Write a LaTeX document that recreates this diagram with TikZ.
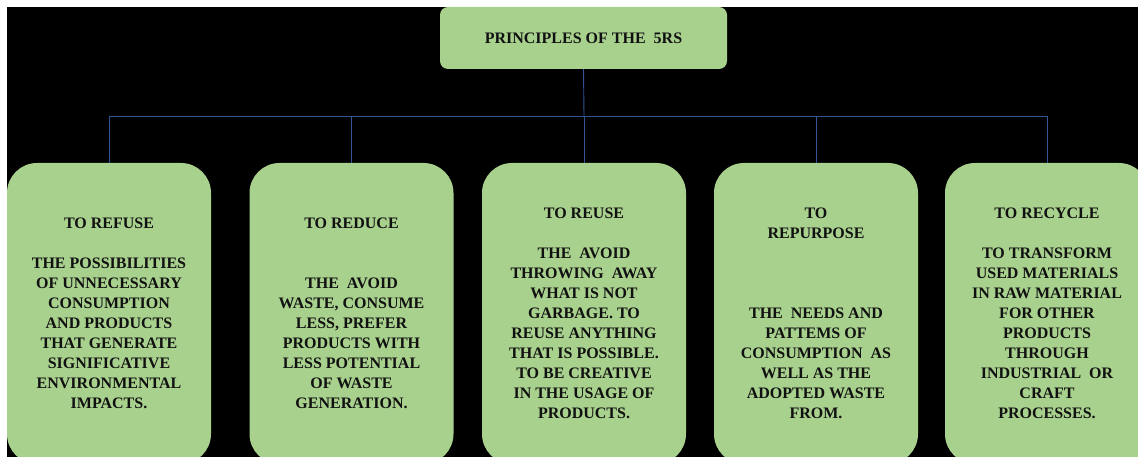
\documentclass[tikz,border=0pt]{standalone}
\usepackage{fontspec}
\setmainfont{Liberation Serif}
\usepackage{xcolor}
\usepackage{tikz}
\usetikzlibrary{positioning,calc}

\definecolor{leafgreen}{HTML}{A9D18E}
\definecolor{linkblue}{HTML}{2F5597}
\definecolor{inkdark}{HTML}{111111}

\tikzset{
    rootbox/.style={rectangle, fill=leafgreen, rounded corners=8pt, minimum width=287pt,
        minimum height=62pt, inner sep=0pt, text=inkdark, font=\fontsize{16}{20}\selectfont\bfseries},
    leafbox/.style={rectangle, fill=leafgreen, rounded corners=30pt, minimum width=204pt,
        minimum height=301pt, inner sep=0pt, align=center, text=inkdark,
        font=\fontsize{16}{20}\selectfont\bfseries},
    link/.style={draw=linkblue, line width=0.9pt}
}

\begin{document}
\begin{tikzpicture}[x=1pt,y=-1pt]
    \clip (0,0) rectangle (1138,457);
    \fill[white] (0,0) rectangle (1138,457);
    \fill[black] (7,7) rectangle (1138,457);

    \node[rootbox] (root) at (583.5,38) {PRINCIPLES OF THE~ 5RS};

    \node[leafbox] (refuse) at (109,313.5) {TO REFUSE\\ ~\\
        THE POSSIBILITIES\\ OF UNNECESSARY\\ CONSUMPTION\\ AND PRODUCTS\\
        THAT GENERATE\\ SIGNIFICATIVE\\ ENVIRONMENTAL\\ IMPACTS.};
    \node[leafbox] (reduce) at (351.5,313.5) {TO REDUCE\\ ~\\ ~\\
        THE~ AVOID\\ WASTE, CONSUME\\ LESS, PREFER\\ PRODUCTS WITH\\
        LESS POTENTIAL\\ OF WASTE\\ GENERATION.};
    \node[leafbox] (reuse) at (584,313.5) {TO REUSE\\ ~\\
        THE~ AVOID\\ THROWING~ AWAY\\ WHAT IS NOT\\ GARBAGE. TO\\
        REUSE ANYTHING\\ THAT IS POSSIBLE.\\ TO BE CREATIVE\\ IN THE USAGE OF\\ PRODUCTS.};
    \node[leafbox] (repurpose) at (816,313.5) {TO\\ REPURPOSE\\ ~\\ ~\\ ~\\
        THE~ NEEDS AND\\ PATTEMS OF\\ CONSUMPTION~ AS\\ WELL AS THE\\
        ADOPTED WASTE\\ FROM.};
    \node[leafbox] (recycle) at (1047,313.5) {TO RECYCLE\\ ~\\
        TO TRANSFORM\\ USED MATERIALS\\ IN RAW MATERIAL\\ FOR OTHER\\
        PRODUCTS\\ THROUGH\\ INDUSTRIAL~ OR\\ CRAFT\\ PROCESSES.};

    % connectors
    \coordinate (bar) at (584,116);
    \draw[link] (root.south) -- (bar);
    \draw[link] (refuse.north |- bar) -- (recycle.north |- bar);
    \foreach \leaf in {refuse,reduce,reuse,repurpose,recycle}
        \draw[link] (\leaf.north |- bar) -- (\leaf.north);
\end{tikzpicture}
\end{document}
